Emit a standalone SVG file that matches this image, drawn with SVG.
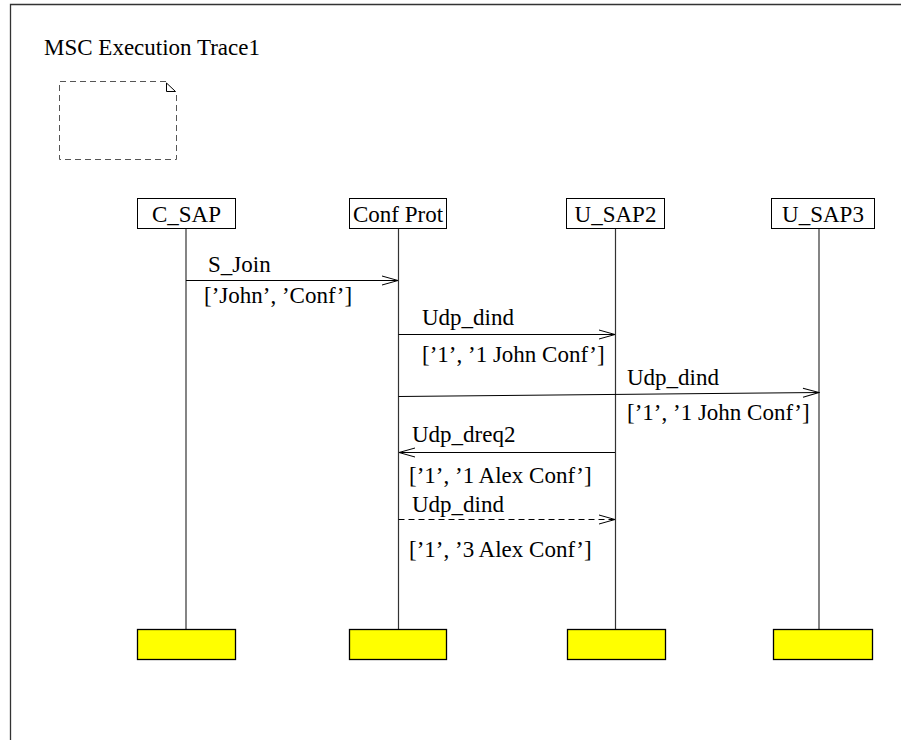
<svg xmlns="http://www.w3.org/2000/svg" width="901" height="740" viewBox="0 0 901 740">
  <style>
    text { font-family: "Liberation Serif", "Times New Roman", serif; font-size: 23px; fill: #000; }
    .head { fill: #fff; stroke: #000; stroke-width: 1; }
    .foot { fill: #ffff00; stroke: #000; stroke-width: 1.3; }
    .life { stroke: #333; stroke-width: 1.2; fill: none; }
    .msg { stroke: #000; stroke-width: 1; fill: none; }
    .dash { stroke-dasharray: 6 4; }
  </style>
  <defs>
    <marker id="arr" viewBox="-18 -6 19 12" refX="0" refY="0" markerWidth="19" markerHeight="12" markerUnits="userSpaceOnUse" orient="auto">
      <path d="M-16,-4.5 L0,0 L-16,4.5" fill="none" stroke="#000" stroke-width="1"/>
    </marker>
  </defs>
  <rect width="901" height="740" fill="#fff"/>
  <path d="M10.5,740 V4.5 H901" fill="none" stroke="#333" stroke-width="1.3"/>
  <text x="44" y="55">MSC Execution Trace1</text>
  <g id="note">
    <path d="M166,81.5 H59.5 V159.5 H176.5 V93" fill="none" stroke="#555" stroke-width="1" stroke-dasharray="6 4"/>
    <path d="M166.5,83 V91.5 H175.5 M166.5,83 L175.5,91.5" fill="none" stroke="#000" stroke-width="1"/>
  </g>
  <g id="C_SAP">
    <line class="life" x1="186" y1="228" x2="186" y2="629"/>
    <rect class="head" x="137.5" y="198.5" width="98" height="30"/>
    <text x="186.5" y="222" text-anchor="middle">C_SAP</text>
    <rect class="foot" x="137.5" y="629.5" width="98" height="30"/>
  </g>
  <g id="Conf_Prot">
    <line class="life" x1="398.5" y1="228" x2="398.5" y2="629"/>
    <rect class="head" x="349.5" y="198.5" width="97" height="30"/>
    <text x="398" y="222" text-anchor="middle">Conf Prot</text>
    <rect class="foot" x="349.5" y="629.5" width="97" height="30"/>
  </g>
  <g id="U_SAP2">
    <line class="life" x1="615.5" y1="228" x2="615.5" y2="629"/>
    <rect class="head" x="566.5" y="198.5" width="98" height="30"/>
    <text x="615.5" y="222" text-anchor="middle">U_SAP2</text>
    <rect class="foot" x="567.5" y="629.5" width="98" height="30"/>
  </g>
  <g id="U_SAP3">
    <line class="life" x1="819" y1="228" x2="819" y2="629"/>
    <rect class="head" x="771.5" y="198.5" width="103" height="30"/>
    <text x="823" y="222" text-anchor="middle">U_SAP3</text>
    <rect class="foot" x="773.5" y="629.5" width="99" height="30"/>
  </g>
  <g id="connectors">
    <line class="msg" x1="186" y1="280.5" x2="398" y2="280.5" marker-end="url(#arr)"/>
    <text x="208" y="272">S_Join</text>
    <text x="204" y="303">[’John’, ’Conf’]</text>

    <line class="msg" x1="398.5" y1="334.5" x2="615" y2="334.5" marker-end="url(#arr)"/>
    <text x="422" y="325">Udp_dind</text>
    <text x="422" y="362">[’1’, ’1 John Conf’]</text>

    <line class="msg" x1="398.5" y1="396.5" x2="819" y2="392.5" marker-end="url(#arr)"/>
    <text x="627" y="385">Udp_dind</text>
    <text x="627" y="420">[’1’, ’1 John Conf’]</text>

    <line class="msg" x1="615" y1="452.5" x2="399" y2="452.5" marker-end="url(#arr)"/>
    <text x="412" y="442">Udp_dreq2</text>
    <text x="409" y="483">[’1’, ’1 Alex Conf’]</text>

    <line class="msg dash" x1="398.5" y1="519.5" x2="615" y2="519.5" marker-end="url(#arr)"/>
    <text x="412" y="512">Udp_dind</text>
    <text x="409" y="557">[’1’, ’3 Alex Conf’]</text>
  </g>
</svg>
